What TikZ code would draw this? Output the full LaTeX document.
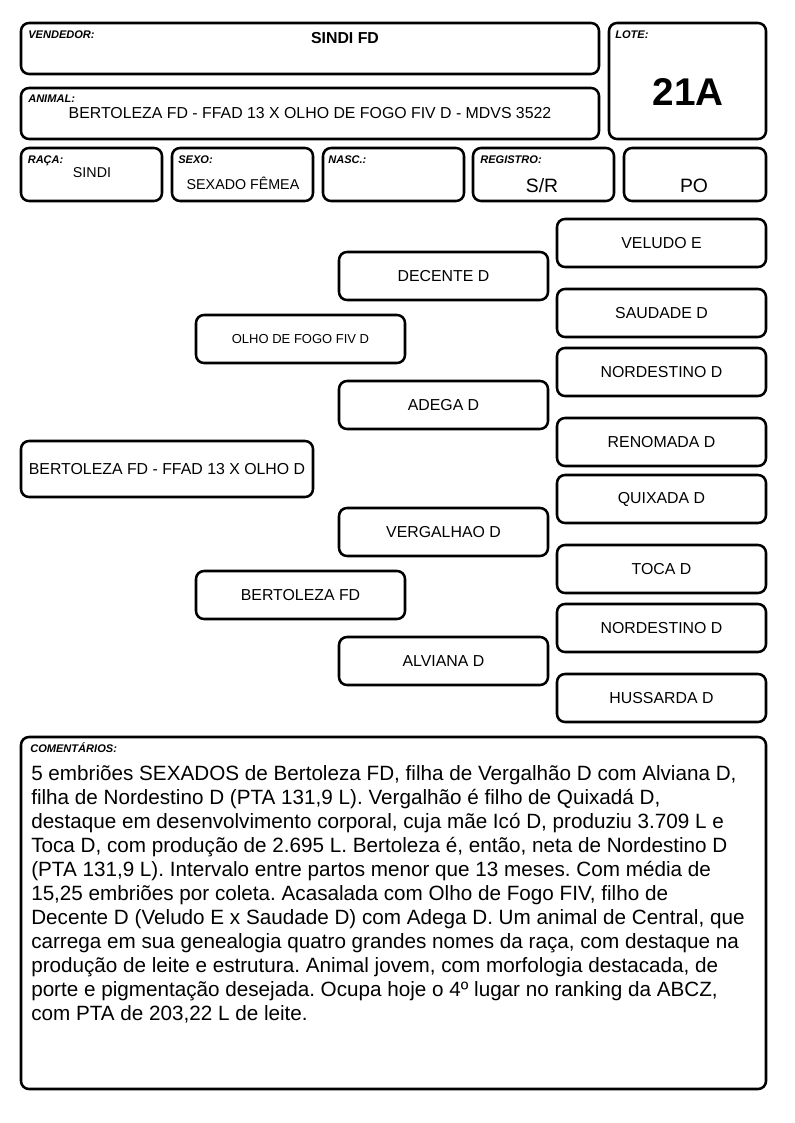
\documentclass[tikz,border=0pt]{standalone}
\usepackage{fontspec}
\setmainfont{Liberation Sans}
\frenchspacing

\begin{document}
\begin{tikzpicture}[x=0.75pt, y=-0.75pt,
  box/.style={draw, line width=1.9pt, rounded corners=6pt, inner sep=0pt},
  field/.style={font=\fontsize{8.3}{9}\selectfont\bfseries\itshape, anchor=base west, inner sep=0pt},
  entry/.style={font=\fontsize{11.9}{13}\selectfont, inner sep=0pt},
  small/.style={entry, anchor=base, font=\fontsize{10.7}{12}\selectfont},
  large/.style={entry, anchor=base, font=\fontsize{14.5}{16}\selectfont},
  cell/.style={box, entry, minimum width=156.75pt, minimum height=36pt}]
  \useasboundingbox (0,0) rectangle (794,1123);
  % header
  \node[box, minimum width=433.5pt, minimum height=38.25pt] (vendedor) at (310,48.5) {};
  \node[box, minimum width=117.75pt, minimum height=87pt] (lote) at (687.5,81) {};
  \node[box, minimum width=433.5pt, minimum height=38.25pt] (animal) at (310,113.5) {};
  \node[box, minimum width=105.75pt, minimum height=39.75pt] (raca) at (91.5,174.5) {};
  \node[box, minimum width=105.75pt, minimum height=39.75pt] (sexo) at (242.5,174.5) {};
  \node[box, minimum width=105.75pt, minimum height=39.75pt] (nasc) at (393.5,174.5) {};
  \node[box, minimum width=105.75pt, minimum height=39.75pt] (registro) at (543.5,174.5) {};
  \node[box, minimum width=106.5pt, minimum height=39.75pt] (po) at (695,174.5) {};
  \node[field] (vendedorlbl) at (28,39) {VENDEDOR:};
  \node[field] (lotelbl) at (615,39) {LOTE:};
  \node[field] (animallbl) at (28,103) {ANIMAL:};
  \node[field] (racalbl) at (27.5,163.5) {RAÇA:};
  \node[field] (sexolbl) at (178,163.5) {SEXO:};
  \node[field] (nasclbl) at (328,163.5) {NASC.:};
  \node[field] (registrolbl) at (480,164) {REGISTRO:};
  \node[entry, font=\fontsize{11.9}{13}\selectfont\bfseries] (vendedortxt) at (345,38) {SINDI FD};
  \node[entry, font=\fontsize{29}{32}\selectfont\bfseries] (lotetxt) at (688,92) {21A};
  \node[entry] (animaltxt) at (310,113) {BERTOLEZA FD - FFAD 13 X OLHO DE FOGO FIV D - MDVS 3522};
  \node[small] (racatxt) at (92,177.7) {SINDI};
  \node[small] (sexotxt) at (243,190) {SEXADO FÊMEA};
  \node[large] (registrotxt) at (542,192.7) {S/R};
  \node[large] (potxt) at (694,192.7) {PO};
  % pedigree
  \node[box, entry, minimum width=219pt, minimum height=42pt] (animalped) at (167,469) {BERTOLEZA FD - FFAD 13 X OLHO D};
  \node[cell, font=\fontsize{9.75}{11}\selectfont] (pai) at (300.5,339) {OLHO DE FOGO FIV D};
  \node[cell] (mae) at (300.5,595) {BERTOLEZA FD};
  \node[cell] (avopp) at (443.5,276) {DECENTE D};
  \node[cell] (avopm) at (443.5,405) {ADEGA D};
  \node[cell] (avomp) at (443.5,532) {VERGALHAO D};
  \node[cell] (avomm) at (443.5,661) {ALVIANA D};
  \node[cell] (bisa1) at (661.5,243) {VELUDO E};
  \node[cell] (bisa2) at (661.5,313) {SAUDADE D};
  \node[cell] (bisa3) at (661.5,372) {NORDESTINO D};
  \node[cell] (bisa4) at (661.5,442) {RENOMADA D};
  \node[cell] (bisa5) at (661.5,499) {QUIXADA D};
  \node[cell] (bisa6) at (661.5,569) {TOCA D};
  \node[cell] (bisa7) at (661.5,628) {NORDESTINO D};
  \node[cell] (bisa8) at (661.5,698) {HUSSARDA D};
  % comentarios
  \node[box, minimum width=558.75pt, minimum height=264pt] (comentarios) at (393.5,913) {};
  \node[field] (comentarioslbl) at (30,752) {COMENTÁRIOS:};
  \node[entry, font=\fontsize{15.5}{18}\selectfont, align=left, anchor=north west] (comentariostxt) at (31,765) {%
    5 embriões SEXADOS de Bertoleza FD, filha de Vergalhão D com Alviana D,\\
    filha de Nordestino D (PTA 131,9 L). Vergalhão é filho de Quixadá D,\\
    destaque em desenvolvimento corporal, cuja mãe Icó D, produziu 3.709 L e\\
    Toca D, com produção de 2.695 L. Bertoleza é, então, neta de Nordestino D\\
    (PTA 131,9 L). Intervalo entre partos menor que 13 meses. Com média de\\
    15,25 embriões por coleta. Acasalada com Olho de Fogo FIV, filho de\\
    Decente D (Veludo E x Saudade D) com Adega D. Um animal de Central, que\\
    carrega em sua genealogia quatro grandes nomes da raça, com destaque na\\
    produção de leite e estrutura. Animal jovem, com morfologia destacada, de\\
    porte e pigmentação desejada. Ocupa hoje o 4º lugar no ranking da ABCZ,\\
    com PTA de 203,22 L de leite.};
\end{tikzpicture}
\end{document}
